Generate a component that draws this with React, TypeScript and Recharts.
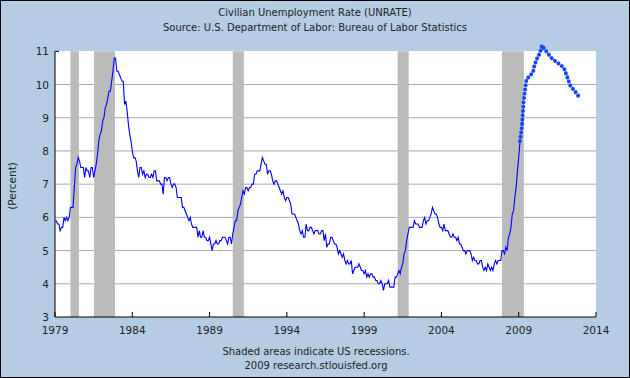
import React from 'react';
import {
  LineChart,
  Line,
  XAxis,
  YAxis,
  CartesianGrid,
  ReferenceArea,
  ReferenceLine,
} from 'recharts';

// monthly civilian unemployment rate
const rate1979to1988 = [
  5.9, 5.9, 5.8, 5.8, 5.6, 5.7, 5.7, 6.0, 5.9, 6.0, 5.9, 6.0,
  6.3, 6.3, 6.3, 6.9, 7.5, 7.6, 7.8, 7.7, 7.5, 7.5, 7.5, 7.2,
  7.5, 7.4, 7.4, 7.2, 7.5, 7.5, 7.2, 7.4, 7.6, 7.9, 8.3, 8.5,
  8.6, 8.9, 9.0, 9.3, 9.4, 9.6, 9.8, 9.8, 10.1, 10.4, 10.8, 10.8,
  10.4, 10.4, 10.3, 10.2, 10.1, 10.1, 9.4, 9.5, 9.2, 8.8, 8.5, 8.3,
  8.0, 7.8, 7.8, 7.7, 7.4, 7.2, 7.5, 7.5, 7.3, 7.4, 7.2, 7.3,
  7.3, 7.2, 7.2, 7.3, 7.2, 7.4, 7.4, 7.1, 7.1, 7.1, 7.0, 7.0,
  6.7, 7.2, 7.2, 7.1, 7.2, 7.2, 7.0, 6.9, 7.0, 7.0, 6.9, 6.6,
  6.6, 6.6, 6.6, 6.3, 6.3, 6.2, 6.1, 6.0, 5.9, 6.0, 5.8, 5.7,
  5.7, 5.7, 5.7, 5.4, 5.6, 5.4, 5.4, 5.6, 5.4, 5.4, 5.3, 5.3,
];
const rate1989to1998 = [
  5.4, 5.2, 5.0, 5.2, 5.2, 5.3, 5.2, 5.2, 5.3, 5.3, 5.4, 5.4,
  5.4, 5.3, 5.2, 5.4, 5.4, 5.2, 5.5, 5.7, 5.9, 5.9, 6.2, 6.3,
  6.4, 6.6, 6.8, 6.7, 6.9, 6.9, 6.8, 6.9, 6.9, 7.0, 7.0, 7.3,
  7.3, 7.4, 7.4, 7.4, 7.6, 7.8, 7.7, 7.6, 7.6, 7.3, 7.4, 7.4,
  7.3, 7.1, 7.0, 7.1, 7.1, 7.0, 6.9, 6.8, 6.7, 6.8, 6.6, 6.5,
  6.6, 6.6, 6.5, 6.4, 6.1, 6.1, 6.1, 6.0, 5.9, 5.8, 5.6, 5.5,
  5.6, 5.4, 5.4, 5.8, 5.6, 5.6, 5.7, 5.7, 5.6, 5.5, 5.6, 5.6,
  5.6, 5.5, 5.5, 5.6, 5.6, 5.3, 5.5, 5.1, 5.2, 5.2, 5.4, 5.4,
  5.3, 5.2, 5.2, 5.1, 4.9, 5.0, 4.9, 4.8, 4.9, 4.7, 4.6, 4.7,
  4.6, 4.6, 4.7, 4.3, 4.4, 4.5, 4.5, 4.5, 4.6, 4.5, 4.4, 4.4,
];
const rate1999to2009 = [
  4.3, 4.4, 4.2, 4.3, 4.2, 4.3, 4.3, 4.2, 4.2, 4.1, 4.1, 4.0,
  4.0, 4.1, 4.0, 3.8, 4.0, 4.0, 4.0, 4.1, 3.9, 3.9, 3.9, 3.9,
  4.2, 4.2, 4.3, 4.4, 4.3, 4.5, 4.6, 4.9, 5.0, 5.3, 5.5, 5.7,
  5.7, 5.7, 5.7, 5.9, 5.8, 5.8, 5.8, 5.7, 5.7, 5.7, 5.9, 6.0,
  5.8, 5.9, 5.9, 6.0, 6.1, 6.3, 6.2, 6.1, 6.1, 6.0, 5.8, 5.7,
  5.7, 5.6, 5.8, 5.6, 5.6, 5.6, 5.5, 5.4, 5.4, 5.5, 5.4, 5.4,
  5.3, 5.4, 5.2, 5.2, 5.1, 5.0, 5.0, 4.9, 5.0, 5.0, 5.0, 4.9,
  4.7, 4.8, 4.7, 4.7, 4.6, 4.6, 4.7, 4.7, 4.5, 4.4, 4.5, 4.4,
  4.6, 4.5, 4.4, 4.5, 4.4, 4.6, 4.7, 4.6, 4.7, 4.7, 4.7, 5.0,
  5.0, 4.9, 5.1, 5.0, 5.4, 5.5, 5.7, 6.1, 6.2, 6.6, 6.9, 7.4,
  7.8, 8.3,
];

// thick dotted continuation after early 2009
const projectionYears = [
  2009.08, 2009.2, 2009.26, 2009.31, 2009.4, 2009.5, 2009.74, 2009.92, 2010.0, 2010.2,
  2010.38, 2010.5, 2010.65, 2011.15, 2011.62, 2011.92, 2012.16, 2012.35, 2012.6, 2012.91,
];
const projectionRates = [
  8.3, 8.7, 9.1, 9.45, 9.8, 10.15, 10.28, 10.35, 10.55, 10.8,
  10.95, 11.18, 11.08, 10.78, 10.62, 10.5, 10.2, 9.95, 9.82, 9.62,
];

const recessionStarts = [1980.0, 1981.53, 1990.5, 2001.17, 2007.92];
const recessionEnds = [1980.55, 1982.88, 1991.22, 2001.88, 2009.33];

const yearTicks = [1979, 1984, 1989, 1994, 1999, 2004, 2009, 2014];
const percentTicks = [3, 4, 5, 6, 7, 8, 9, 10, 11];
const gridValues = [4, 5, 6, 7, 8, 9, 10];

const monthly = [...rate1979to1988, ...rate1989to1998, ...rate1999to2009].map((v, i) => ({
  x: 1979 + i / 12,
  y: v,
}));
const projection = projectionYears.map((x, i) => ({ x, y: projectionRates[i] }));

const FONT = '"DejaVu Sans", Verdana, sans-serif';
const TEXT = '#222';

const XTick = (props: any) => {
  const { x, y, payload } = props;
  return (
    <g>
      <line x1={x} y1={y} x2={x} y2={y - 5} stroke="#000" />
      <text x={x} y={y + 17} textAnchor="middle" fontSize={10.5} fontFamily={FONT} fill={TEXT}>
        {payload.value}
      </text>
    </g>
  );
};

const YTick = (props: any) => {
  const { x, y, payload } = props;
  return (
    <g>
      {payload.value === 11 && <line x1={x} y1={y} x2={x + 4} y2={y} stroke="#000" />}
      <text x={x - 6} y={y + 4} textAnchor="end" fontSize={10.5} fontFamily={FONT} fill={TEXT}>
        {payload.value}
      </text>
    </g>
  );
};

const App: React.FC = () => {
  return (
    <div
      style={{
        position: 'absolute',
        left: 0,
        top: 0,
        width: 630,
        height: 378,
        background: '#B4CDE5',
        fontFamily: FONT,
        color: TEXT,
        overflow: 'hidden',
      }}
    >
      <div style={{ position: 'absolute', left: 55, top: 51, width: 541, height: 266, background: '#fff' }} />
      <div style={{ position: 'absolute', left: 0, width: 630, top: 5, textAlign: 'center', fontSize: 10, lineHeight: '15px' }}>
        <div>Civilian Unemployment Rate (UNRATE)</div>
        <div>Source: U.S. Department of Labor: Bureau of Labor Statistics</div>
      </div>
      <div
        style={{
          position: 'absolute',
          left: 12,
          top: 186,
          fontSize: 10.5,
          transform: 'translate(-50%, -50%) rotate(-90deg)',
          whiteSpace: 'nowrap',
        }}
      >
        (Percent)
      </div>
      <div style={{ position: 'absolute', left: 0, width: 632, top: 345, textAlign: 'center', fontSize: 10, lineHeight: '14px' }}>
        <div>Shaded areas indicate US recessions.</div>
        <div>2009 research.stlouisfed.org</div>
      </div>
      <div style={{ position: 'absolute', left: 0, top: 0 }}>
        <LineChart width={630} height={378} margin={{ top: 43, right: 34, left: 15, bottom: 41 }}>
          <CartesianGrid vertical={false} horizontalValues={gridValues} stroke="#AAAAAA" />
          {recessionStarts.map((s, i) => (
            <ReferenceArea
              key={s}
              x1={s}
              x2={recessionEnds[i]}
              y1={3}
              y2={11}
              fill="#BBBBBB"
              fillOpacity={1}
              stroke="none"
              ifOverflow="visible"
            />
          ))}
          <XAxis
            type="number"
            dataKey="x"
            domain={[1979, 2014]}
            ticks={yearTicks}
            allowDataOverflow
            height={20}
            tickSize={0}
            tickMargin={0}
            tick={<XTick />}
            axisLine={{ stroke: '#000' }}
            tickLine={false}
          />
          <YAxis
            type="number"
            dataKey="y"
            domain={[3, 11.25]}
            ticks={percentTicks}
            allowDataOverflow
            width={40}
            tickSize={0}
            tickMargin={0}
            tick={<YTick />}
            axisLine={false}
            tickLine={false}
          />
          <ReferenceLine
            segment={[
              { x: 1979, y: 3 },
              { x: 1979, y: 11 },
            ]}
            stroke="#000"
          />
          <Line
            data={monthly}
            dataKey="y"
            type="linear"
            stroke="#0000FF"
            strokeWidth={1.1}
            dot={false}
            isAnimationActive={false}
          />
          <Line
            data={projection}
            dataKey="y"
            type="linear"
            stroke="#1446FF"
            strokeWidth={4}
            strokeLinecap="round"
            strokeDasharray="0.01 4.3"
            dot={false}
            isAnimationActive={false}
          />
        </LineChart>
      </div>
      <div
        style={{
          position: 'absolute',
          left: 0,
          top: 0,
          width: 630,
          height: 378,
          boxSizing: 'border-box',
          border: '1px solid #000',
          pointerEvents: 'none',
        }}
      />
    </div>
  );
};

export default App;
